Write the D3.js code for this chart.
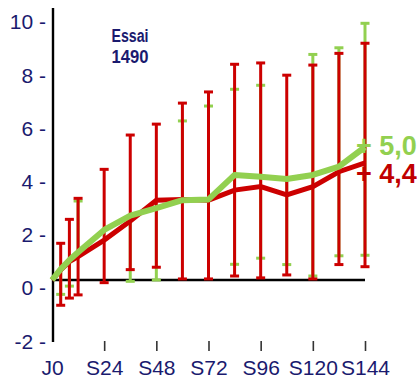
<!DOCTYPE html>
<html>
<head>
<meta charset="utf-8">
<script src="https://cdn.jsdelivr.net/npm/d3@7"></script>
<style>
  html, body { margin: 0; padding: 0; background: #ffffff; }
  svg { display: block; }
</style>
</head>
<body>
<svg id="chart" width="417" height="378"></svg>
<script>
// Visit schedule (weeks) and axis tick labels
const weeks = [0, 4, 8, 12, 24, 36, 48, 60, 72, 84, 96, 108, 120, 132, 144];
const xTickWeeks = [0, 24, 48, 72, 96, 120, 144];
const xTickLabels = ["J0", "S24", "S48", "S72", "S96", "S120", "S144"];
const yTickValues = [10, 8, 6, 4, 2, 0, -2];

// Red series: mean change and error-bar limits
const redMean = [0, 0.38, 0.69, 0.88, 1.50, 2.22, 3.00, 3.03, 3.00, 3.38, 3.51, 3.20, 3.51, 4.07, 4.4];
const redHigh = [null, 1.38, 2.28, 3.07, 4.16, 5.45, 5.86, 6.65, 7.07, 8.11, 8.16, 7.70, 8.08, 8.52, 8.90];
const redLow  = [null, -0.95, -0.68, -0.56, -0.10, 0.39, 0.48, 0.04, 0.04, 0.15, 0.08, 0.19, 0.04, 0.58, 0.50];

// Green series: mean change and error-bar limits (null = no cap)
const greenMean = [0, 0.41, 0.75, 1.04, 1.88, 2.42, 2.70, 3.00, 3.03, 3.95, 3.88, 3.80, 3.95, 4.26, 5.0];
const greenHigh = [null, null, null, 2.97, null, null, null, 5.98, 6.54, 7.17, 7.32, null, 8.48, 8.73, 9.65];
const greenLow  = [null, -0.54, -0.23, null, null, -0.05, 0.0, null, null, 0.59, 0.82, 0.58, 0.15, 0.91, 0.93];

// End-of-study labels
const redEndLabel = "+ 4,4";
const greenEndLabel = "+ 5,0";
const studyTitle = ["Essai", "1490"];

const RED = "#cc0000";
const RED_TEXT = "#c00000";
const GREEN = "#92d050";
const NAVY = "#1a1a6e";
const FONT = "'Liberation Sans', Arial, sans-serif";

const svg = d3.select("#chart");

const x = d3.scaleLinear().domain([0, 144]).range([52, 365]);
const y = d3.scaleLinear().domain([0, 10]).range([280, 14]);

// Vertical axis line
svg.append("line")
  .attr("x1", 53).attr("x2", 53)
  .attr("y1", 8).attr("y2", 342)
  .attr("stroke", "#000").attr("stroke-width", 2.4);

// Y tick labels ("10 -" style)
const yAxis = svg.append("g")
  .attr("transform", "translate(46,8)")
  .call(d3.axisLeft(y).tickValues(yTickValues).tickSize(0).tickPadding(0)
    .tickFormat(d => d + " -"));
yAxis.select(".domain").remove();
yAxis.selectAll("text")
  .attr("fill", NAVY)
  .attr("font-family", FONT)
  .attr("font-size", 21)
  .attr("dy", "0.33em");

// X axis: ticks and labels
const xAxis = svg.append("g")
  .attr("transform", "translate(0,341)")
  .call(d3.axisBottom(x).tickValues(xTickWeeks).tickSize(10).tickPadding(9)
    .tickFormat((d, i) => xTickLabels[i]));
xAxis.select(".domain").remove();
xAxis.selectAll(".tick line")
  .attr("stroke", "#333").attr("stroke-width", 1.6)
  .attr("display", d => d === 0 ? "none" : null);
xAxis.selectAll("text")
  .attr("fill", NAVY)
  .attr("font-family", FONT)
  .attr("font-size", 21);

// Baseline at zero
svg.append("line")
  .attr("x1", x(0)).attr("x2", x(144))
  .attr("y1", y(0)).attr("y2", y(0))
  .attr("stroke", "#000").attr("stroke-width", 2.6);

// Error bars
function errorBars(lows, highs, means, color, cls) {
  const g = svg.append("g").attr("class", cls);
  const rows = weeks.map((w, i) => ({ w, lo: lows[i], hi: highs[i], m: means[i] }));
  const capW = 4.5;
  // stems
  g.selectAll("line.stem-hi").data(rows.filter(r => r.hi !== null)).join("line")
    .attr("class", "stem-hi")
    .attr("x1", r => x(r.w)).attr("x2", r => x(r.w))
    .attr("y1", r => y(r.m)).attr("y2", r => y(r.hi))
    .attr("stroke", color).attr("stroke-width", 3);
  g.selectAll("line.stem-lo").data(rows.filter(r => r.lo !== null)).join("line")
    .attr("class", "stem-lo")
    .attr("x1", r => x(r.w)).attr("x2", r => x(r.w))
    .attr("y1", r => y(r.m)).attr("y2", r => y(r.lo))
    .attr("stroke", color).attr("stroke-width", 3);
  // caps
  g.selectAll("line.cap-hi").data(rows.filter(r => r.hi !== null)).join("line")
    .attr("class", "cap-hi")
    .attr("x1", r => x(r.w) - capW).attr("x2", r => x(r.w) + capW)
    .attr("y1", r => y(r.hi)).attr("y2", r => y(r.hi))
    .attr("stroke", color).attr("stroke-width", 3);
  g.selectAll("line.cap-lo").data(rows.filter(r => r.lo !== null)).join("line")
    .attr("class", "cap-lo")
    .attr("x1", r => x(r.w) - capW).attr("x2", r => x(r.w) + capW)
    .attr("y1", r => y(r.lo)).attr("y2", r => y(r.lo))
    .attr("stroke", color).attr("stroke-width", 3);
}

errorBars(greenLow, greenHigh, greenMean, GREEN, "green-bars");
errorBars(redLow, redHigh, redMean, RED, "red-bars");

// Mean lines
const line = d3.line().x((d, i) => x(weeks[i])).y(d => y(d));

svg.append("path")
  .datum(redMean)
  .attr("d", line)
  .attr("fill", "none")
  .attr("stroke", RED)
  .attr("stroke-width", 5)
  .attr("stroke-linejoin", "miter");

svg.append("path")
  .datum(greenMean)
  .attr("d", line)
  .attr("fill", "none")
  .attr("stroke", GREEN)
  .attr("stroke-width", 6)
  .attr("stroke-linejoin", "round");

// End values
svg.append("text")
  .attr("x", 356).attr("y", y(greenMean[greenMean.length - 1]) + 8)
  .attr("fill", GREEN)
  .attr("font-family", FONT)
  .attr("font-weight", "bold")
  .attr("font-size", 27)
  .text(greenEndLabel);

svg.append("text")
  .attr("x", 356).attr("y", y(redMean[redMean.length - 1]) + 20)
  .attr("fill", RED_TEXT)
  .attr("font-family", FONT)
  .attr("font-weight", "bold")
  .attr("font-size", 27)
  .text(redEndLabel);

// Study title
svg.append("text")
  .attr("text-anchor", "middle")
  .attr("fill", NAVY)
  .attr("font-family", FONT)
  .attr("font-weight", "bold")
  .attr("font-size", 18)
  .selectAll("tspan").data(studyTitle).join("tspan")
  .attr("x", 130)
  .attr("y", (d, i) => 42 + i * 21)
  .attr("textLength", 37)
  .attr("lengthAdjust", "spacingAndGlyphs")
  .text(d => d);
</script>
</body>
</html>
